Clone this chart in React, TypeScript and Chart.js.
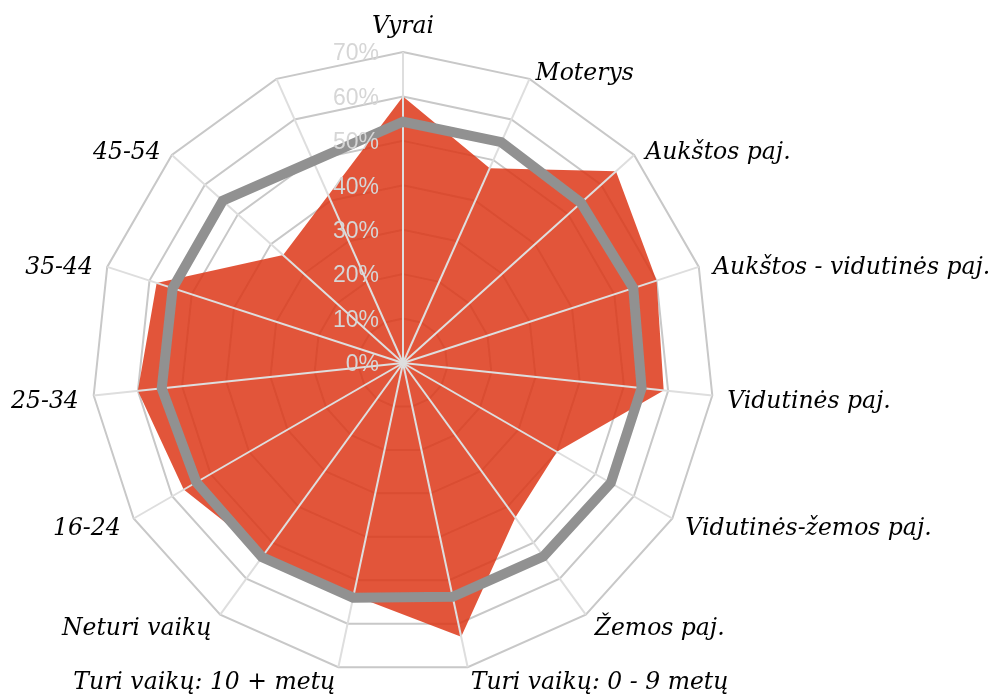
import React, { useEffect, useRef } from 'react';
import { Chart, registerables } from 'chart.js';

Chart.register(...registerables);

const categories = [
  'Vyrai',
  'Moterys',
  'Aukštos paj.',
  'Aukštos - vidutinės paj.',
  'Vidutinės paj.',
  'Vidutinės-žemos paj.',
  'Žemos paj.',
  'Turi vaikų: 0 - 9 metų',
  'Turi vaikų: 10 + metų',
  'Neturi vaikų',
  '16-24',
  '25-34',
  '35-44',
  '45-54',
  '',
];

const segmentValues = [60, 48, 64.5, 60, 59, 40, 43, 63, 53.5, 53, 57, 60, 58.3, 36.3, null];
const averageValues = [54.3, 54.4, 53.9, 54.5, 54, 54, 53.8, 53.8, 54, 54, 53.7, 54.6, 54.5, 54.6, null];

const tickValues = [0, 10, 20, 30, 40, 50, 60, 70];
const tickLabels = ['0%', '10%', '20%', '30%', '40%', '50%', '60%', '70%'];

const CENTER_X = 403;
const CENTER_Y = 363;
const RADIUS = 311;

const overlayPlugin = {
  id: 'overlay',
  afterDatasetDraw(chart: any, args: any) {
    if (args.index !== 0) return;
    const scale = chart.scales.r;
    const ctx = chart.ctx;
    ctx.save();
    ctx.strokeStyle = 'rgb(222,222,222)';
    ctx.lineWidth = 2;
    for (let i = 0; i < categories.length; i++) {
      const p = scale.getPointPosition(i, scale.drawingArea);
      ctx.beginPath();
      ctx.moveTo(scale.xCenter, scale.yCenter);
      ctx.lineTo(p.x, p.y);
      ctx.stroke();
    }
    ctx.restore();
  },
  afterDatasetsDraw(chart: any) {
    const scale = chart.scales.r;
    const ctx = chart.ctx;
    ctx.save();
    // tick labels
    ctx.font = '23px "Liberation Sans", Arial, sans-serif';
    ctx.fillStyle = 'rgb(214,214,214)';
    ctx.textAlign = 'right';
    ctx.textBaseline = 'middle';
    tickValues.forEach((v, i) => {
      const d = scale.getDistanceFromCenterForValue(v);
      ctx.fillText(tickLabels[i], scale.xCenter - 24, scale.yCenter - d + 2);
    });
    // point labels
    ctx.font = 'italic 23.5px "DejaVu Serif", serif';
    ctx.fillStyle = '#000';
    ctx.textBaseline = 'alphabetic';
    const n = categories.length;
    categories.forEach((label, i) => {
      if (!label) return;
      const a = (i * 2 * Math.PI) / n;
      const s = Math.sin(a);
      const c = Math.cos(a);
      const dist = scale.drawingArea + 15;
      const ax = scale.xCenter + dist * s;
      const ay = scale.yCenter - dist * c;
      let align: CanvasTextAlign = 'center';
      if (s > 0.05) align = 'left';
      else if (s < -0.05) align = 'right';
      ctx.textAlign = align;
      let y;
      if (Math.abs(s) < 0.05 && c > 0) y = ay - 4;
      else y = ay + 11 + 4 * c;
      ctx.fillText(label, ax, y);
    });
    ctx.restore();
  },
};

export default function App() {
  const ref = useRef<HTMLCanvasElement | null>(null);
  useEffect(() => {
    if (!ref.current) return;
    const chart = new Chart(ref.current, {
      type: 'radar',
      data: {
        labels: categories,
        datasets: [
          {
            data: segmentValues,
            backgroundColor: 'rgba(221,55,24,0.85)',
            borderWidth: 0,
            pointRadius: 0,
            fill: 'origin',
            spanGaps: true,
            order: 2,
          },
          {
            data: averageValues,
            borderColor: 'rgb(145,145,145)',
            borderWidth: 10,
            pointRadius: 0,
            fill: false,
            spanGaps: true,
            order: 1,
          },
        ],
      },
      options: {
        responsive: false,
        animation: false,
        devicePixelRatio: 1,
        layout: { padding: 0 },
        plugins: {
          legend: { display: false },
          tooltip: { enabled: false },
        },
        scales: {
          r: {
            min: 0,
            max: 70,
            ticks: { display: false, stepSize: 10 },
            grid: { color: 'rgb(200,200,200)', lineWidth: 2 },
            angleLines: { display: false },
            pointLabels: { display: false },
            afterFit: (scale: any) => {
              scale.xCenter = CENTER_X;
              scale.yCenter = CENTER_Y;
              scale.drawingArea = RADIUS;
            },
          },
        },
      },
      plugins: [overlayPlugin],
    });
    return () => chart.destroy();
  }, []);
  return (
    <div style={{ position: 'absolute', left: 0, top: 0, width: 994, height: 697, background: '#fff' }}>
      <canvas ref={ref} width={994} height={697} style={{ display: 'block' }} />
    </div>
  );
}
